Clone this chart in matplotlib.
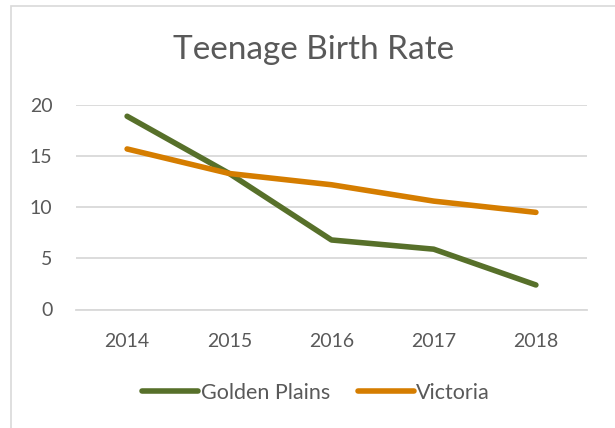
import matplotlib
matplotlib.use("Agg")
import matplotlib.pyplot as plt
from matplotlib.patches import Rectangle

# data
years = ["2014", "2015", "2016", "2017", "2018"]
golden_plains = [18.9, 13.3, 6.8, 5.9, 2.4]
victoria = [15.7, 13.3, 12.2, 10.6, 9.5]
y_ticks = [0, 5, 10, 15, 20]

plt.rcParams['font.family'] = ['Lato', 'DejaVu Sans']

fig = plt.figure(figsize=(6.15, 4.28), dpi=100)
ax = fig.add_axes([76 / 615, 1 - 309.5 / 428, 511 / 615, 204.5 / 428])

# light border around the whole chart
fig.patches.append(Rectangle((11 / 615, -0.05), 1.2, 1 - 6 / 428 + 0.05,
                             transform=fig.transFigure, fill=False,
                             edgecolor='#d9d9d9', linewidth=1.2))

x = range(len(years))
ax.plot(x, golden_plains, color='#57702A', linewidth=4, solid_capstyle='round',
        label="Golden Plains", zorder=3)
ax.plot(x, victoria, color='#D57D00', linewidth=4, solid_capstyle='round',
        label="Victoria", zorder=3)

ax.set_xlim(-0.5, 4.5)
ax.set_ylim(0, 20)
ax.set_xticks(list(x))
ax.set_xticklabels(years)
ax.set_yticks(y_ticks)
ax.tick_params(length=0, labelsize=14, colors='#595959')
ax.tick_params(axis='x', pad=17)
ax.tick_params(axis='y', pad=17)
ax.grid(axis='y', color='#d9d9d9', linewidth=1.3)
ax.set_axisbelow(True)
for s in ax.spines.values():
    s.set_visible(False)
ax.spines['bottom'].set_visible(True)
ax.spines['bottom'].set_color('#d9d9d9')
ax.spines['bottom'].set_linewidth(1.3)

fig.text(314 / 615, 1 - 50 / 428, "Teenage Birth Rate", ha='center', va='center',
         fontsize=24, color='#595959')

fig.legend(loc='center', bbox_to_anchor=(316 / 615, 1 - 393 / 428), ncol=2,
           frameon=False, fontsize=15.5, handlelength=2.6, handletextpad=0.1,
           columnspacing=1.3, labelcolor='#595959')

fig.savefig("out.png", dpi=100, facecolor='white')
